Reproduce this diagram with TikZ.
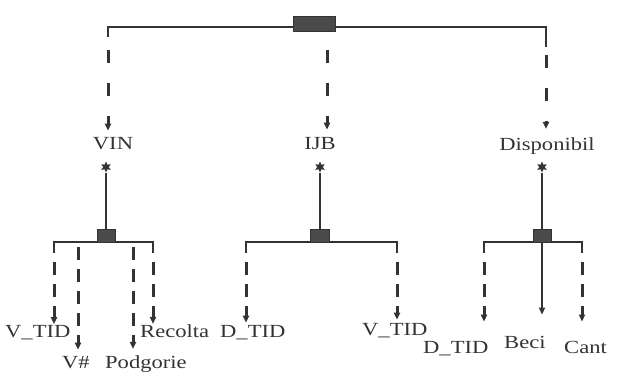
\documentclass[tikz,border=0pt]{standalone}
\usepackage{fontspec}
\setmainfont{Liberation Serif}[FakeStretch=1.22]
\usepackage{tikz}
\usetikzlibrary{arrows.meta,positioning,shapes.geometric}
\definecolor{ink}{HTML}{333333}
\definecolor{slab}{HTML}{4A4A4A}
\tikzset{
  hub/.style={draw=ink,fill=slab,line width=0.6pt,minimum width=#1,minimum height=13pt,inner sep=0pt},
  lbl/.style={font=\fontsize{18.5}{20}\selectfont,text=ink,inner sep=0pt,anchor=base west},
  ent/.style={font=\fontsize{18.5}{20}\selectfont,text=ink,inner sep=0pt,anchor=base},
  mark6/.style={star,star points=6,star point ratio=2,fill=ink,minimum size=11pt,inner sep=0pt},
  bar/.style={draw=ink,line width=2pt},
  stem/.style={draw=ink,line width=2pt},
  toplink/.style={draw=ink,line width=3pt,dash pattern=on 13pt off 20pt,-{Triangle[length=7pt,width=6pt]},shorten >=#1},
  link/.style={draw=ink,line width=3pt,dash pattern=on 13pt off 9pt,-{Triangle[length=7pt,width=6pt]},shorten >=#1},
  solidlink/.style={draw=ink,line width=2pt,-{Triangle[length=7pt,width=6pt]},shorten >=#1},
}

\begin{document}
\begin{tikzpicture}[x=1pt,y=-1pt]
  \useasboundingbox (0,0) rectangle (633,376);
  % top level
  \draw[bar] (108,37) -- (108,27) -- (546,27) -- (546,47);
  \node[hub=42pt,minimum height=15pt] (root) at (314,23.5) {};
  \node[ent] (vin) at (113,149) {VIN};
  \node[ent] (ijb) at (320,149) {IJB};
  \node[ent] (disp) at (547,150) {Disponibil};
  \coordinate (s1) at (108,50); \coordinate (s2) at (327,50); \coordinate (s3) at (546,55);
  \draw[toplink=6pt] (s1) -- (s1 |- vin.north);
  \draw[toplink=7pt] (s2) -- (s2 |- ijb.north);
  \draw[toplink=8pt] (s3) -- (s3 |- disp.north);

  % VIN
  \node[mark6] (vstar) at (106,167) {};
  \draw[bar] (54,253) -- (54,242) -- (153,242) -- (153,253);
  \node[hub=18pt] (vbox) at (106,235.5) {};
  \draw[stem] (vstar) -- (vbox);
  \node[lbl] (vtid) at (5,337) {V\_TID};
  \node[lbl] (vnum) at (62,368) {V\#};
  \node[lbl] (podg) at (105,368) {Podgorie};
  \node[lbl] (recolta) at (140,337) {Recolta};
  \coordinate (v1) at (54,262); \coordinate (v2) at (78,247);
  \coordinate (v3) at (133,247); \coordinate (v4) at (153,262);
  \draw[link=0.5pt] (v1) -- (v1 |- vtid.north);
  \draw[link=6pt] (v2) -- (v2 |- vnum.north);
  \draw[link=6pt] (v3) -- (v3 |- podg.north);
  \draw[link=0pt] (v4) -- (v4 |- recolta.north);

  % IJB
  \node[mark6] (istar) at (320,167) {};
  \draw[bar] (246,253) -- (246,242) -- (397,242) -- (397,253);
  \node[hub=19pt] (ibox) at (320,235.5) {};
  \draw[stem] (istar) -- (ibox);
  \node[lbl] (dtid) at (220,337) {D\_TID};
  \node[lbl] (vtidb) at (362,335) {V\_TID};
  \coordinate (i1) at (246,262); \coordinate (i2) at (397,262);
  \draw[link=2pt] (i1) -- (i1 |- dtid.north);
  \draw[link=3pt] (i2) -- (i2 |- vtidb.north);

  % Disponibil
  \node[mark6] (dstar) at (542,167) {};
  \draw[bar] (484,253) -- (484,242) -- (582,242) -- (582,253);
  \node[hub=18pt] (dbox) at (542,235.5) {};
  \draw[stem] (dstar) -- (dbox);
  \node[lbl] (dtidb) at (423,353) {D\_TID};
  \node[lbl] (beci) at (504,348) {Beci};
  \node[lbl] (cant) at (564,353) {Cant};
  \coordinate (d1) at (484,262); \coordinate (d3) at (582,262);
  \draw[link=19pt] (d1) -- (d1 |- dtidb.north);
  \draw[solidlink=21pt] (dbox.south) -- (dbox.south |- beci.north);
  \draw[link=19pt] (d3) -- (d3 |- cant.north);
\end{tikzpicture}
\end{document}
